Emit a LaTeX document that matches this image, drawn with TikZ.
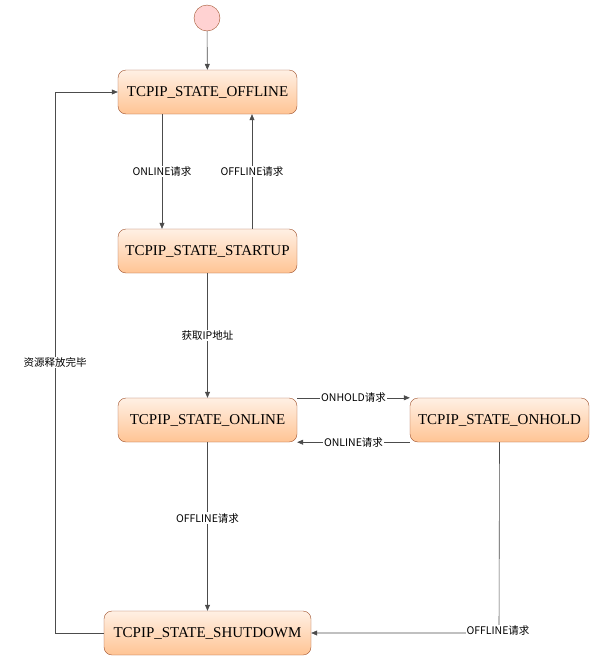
\documentclass[tikz,border=0pt]{standalone}
\usepackage{fontspec}
\setmainfont{Liberation Serif}
\newfontfamily\lbl{Noto Sans CJK SC}
\usetikzlibrary{arrows.meta}
\definecolor{bd}{HTML}{A0522D}
\definecolor{tp}{HTML}{FFF0E4}
\definecolor{bt}{HTML}{FFC494}
\begin{document}
\begin{tikzpicture}[x=1pt,y=-1pt,
  st/.style={draw=bd,rounded corners=8pt,top color=tp,bottom color=bt,minimum height=44pt,inner sep=0pt,font=\fontsize{15}{17}\selectfont},
  ar/.style={draw=black!70,-{Triangle[length=6pt,width=5pt]},line width=0.6pt},
  lb/.style={fill=white,inner sep=1pt,font=\lbl\fontsize{10.5}{12}\selectfont}]
\useasboundingbox (0,0) rectangle (603,672);
\node[circle,draw=bd,fill=pink!70,minimum size=26pt,inner sep=0pt] (s) at (207,18) {};
\node[st,minimum width=179pt] (off) at (207.5,92) {TCPIP\_STATE\_OFFLINE};
\node[st,minimum width=179pt] (up) at (207.5,251) {TCPIP\_STATE\_STARTUP};
\node[st,minimum width=179pt] (on) at (207.5,420) {TCPIP\_STATE\_ONLINE};
\node[st,minimum width=179pt] (hold) at (499.5,420) {TCPIP\_STATE\_ONHOLD};
\node[st,minimum width=207pt] (sd) at (207.5,633) {TCPIP\_STATE\_SHUTDOWM};
\draw[ar] (s) -- (off);
\draw[ar] (off.south -| 162,0) -- node[lb]{ONLINE请求} (up.north -| 162,0);
\draw[ar] (up.north -| 252,0) -- node[lb]{OFFLINE请求} (off.south -| 252,0);
\draw[ar] (up) -- node[lb]{获取IP地址} (on);
\draw[ar] (on.north east) -- node[lb]{ONHOLD请求} (hold.north west);
\draw[ar] (hold.south west) -- node[lb]{ONLINE请求} (on.south east);
\draw[ar] (on) -- node[lb,pos=0.45]{OFFLINE请求} (sd);
\coordinate (c0) at (499,633);
\draw[ar] (hold.south) -- (c0) -- (sd.east);
\node[lb] (l5) at (498,631) {OFFLINE请求};
\coordinate (c1) at (55,633);
\coordinate (c2) at (55,92);
\draw[ar] (sd.west) -- (c1) -- node[lb]{资源释放完毕} (c2) -- (off.west);
\end{tikzpicture}
\end{document}
